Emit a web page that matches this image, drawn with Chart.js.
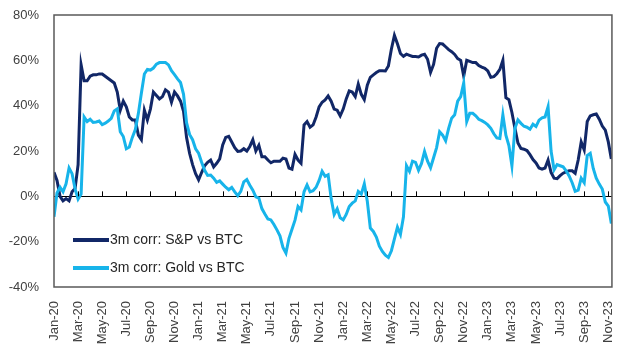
<!DOCTYPE html>
<html>
<head>
<meta charset="utf-8">
<script src="https://cdn.jsdelivr.net/npm/chart.js@4/dist/chart.umd.min.js"></script>
<style>
  html, body { margin: 0; padding: 0; background: #fff; }
  #wrap { width: 630px; height: 349px; }
</style>
</head>
<body>
<div id="wrap"><canvas id="corrChart" width="630" height="349"></canvas></div>
<script>
// roughly weekly points, months counted from Jan-20
const STEP_MONTHS = 0.25;

const xTickLabels = [
  'Jan-20', 'Mar-20', 'May-20', 'Jul-20', 'Sep-20', 'Nov-20',
  'Jan-21', 'Mar-21', 'May-21', 'Jul-21', 'Sep-21', 'Nov-21',
  'Jan-22', 'Mar-22', 'May-22', 'Jul-22', 'Sep-22', 'Nov-22',
  'Jan-23', 'Mar-23', 'May-23', 'Jul-23', 'Sep-23', 'Nov-23'
];

const seriesNames = ['3m corr: S&P vs BTC', '3m corr: Gold vs BTC'];

const spVsBtc = [
  10.6, 7, 0, -2, -1, -2, 2, 3.5, 14, 58,
  51, 51, 53, 53.6, 53.6, 54, 54, 53, 52, 51,
  50, 46, 38, 42, 39.5, 35, 33.7, 33.7, 27, 25,
  38, 33.7, 38.5, 46, 44.5, 43, 44, 47, 46, 41.5,
  46, 44.3, 42, 37.5, 26, 19, 14, 10, 7.3, 10.5,
  13.5, 15, 16, 13, 14.6, 16.5, 22.7, 26, 26.5, 24,
  21.5, 19.8, 20, 21, 20, 22, 25, 20, 22.5, 17.5,
  17.5, 16, 14.8, 15.5, 15.5, 15.5, 16.8, 16.5, 12.5, 12,
  18.5, 16, 14.6, 31.5, 33, 30.5, 31.5, 35, 39.5, 41.5,
  42.5, 44.3, 42, 38.5, 38, 35.5, 38.5, 43, 46.5, 46,
  44, 49.5, 45, 42.7, 49, 52.5, 53.6, 54.6, 55.4, 55.4,
  55.3, 57.5, 65, 71, 67.3, 63, 61.8, 62.7, 62.2, 61.7,
  61.7, 61.5, 62.3, 62.7, 60.5, 54.7, 58.2, 65.3, 67.4, 67.2,
  66, 64.7, 63.8, 62.6, 60.8, 60, 53, 60, 59.5, 59,
  59, 57.7, 57, 56.5, 55.3, 52.5, 52.8, 54.1, 56, 60,
  43.5, 42.6, 37, 30, 23.5, 21.1, 20.8, 20.2, 18.4, 16.2,
  14.7, 12.5, 12, 12.5, 16, 10.5, 8, 7.8, 9.1, 10.2,
  10.8, 11.3, 11.3, 10.2, 16, 24, 20.5, 33, 35.5, 36,
  36.3, 34, 31, 29.2, 24, 16.5
];

const goldVsBtc = [
  -9, 1.5, 4, 2, 5.5, 12.5, 10, 3.3, -1.2, 1,
  35, 33, 34, 32.6, 32.8, 33.2, 31.6, 32.3, 33.2, 34.4,
  37.7, 38.6, 28.5, 26.4, 21, 21.8, 26, 29.5, 36.5, 45.5,
  54, 56, 55.7, 56.6, 58.3, 59, 59, 59, 58, 55.4,
  53.7, 51.8, 50.2, 45, 32.5, 27.3, 25, 21, 19, 15,
  11.5, 9.2, 9.4, 8, 6.2, 6.8, 5.4, 4, 2.9, 3.9,
  2, 0.3, 2.2, 6.4, 7.4, 4.9, 2.7, -0.2, -0.8, -5.4,
  -7.8, -10, -10.4, -12.4, -14.8, -17.4, -22.5, -25, -18.5, -14.5,
  -10.5, -4.5, -6, 2, 5, 2, 2.5, 4, 7, 11,
  8.8, 9.5, -1, -8, -5.5, -9.5, -10.4, -8, -4.5, -3,
  -2, 2.2, 1, 5.5, -2.2, -14, -15.5, -18, -22, -24.3,
  -26, -27, -24, -18.8, -13.6, -16.8, -9, 13.5, 11, 15.5,
  15, 11.5, 14.5, 19.8, 15.5, 12.6, 17, 21.5, 28.5, 27,
  24.5, 30, 34.5, 36, 42, 44, 50, 33, 36.6, 36.6,
  35.5, 34, 33.4, 32.6, 31.5, 30, 27.6, 25.8, 25.5, 36,
  27, 22.4, 13.5, 30, 33.7, 32.2, 30.9, 30.5, 29.6, 31.8,
  30.8, 33.6, 34.6, 35, 39.5, 20, 11.7, 14, 13.5, 13,
  11.3, 9, 6, 2.2, 2.7, 8, 6, 18, 19, 12.3,
  8, 5.4, 3.2, -2.5, -4.3, -12
];

const yTicks = [-40, -20, 0, 20, 40, 60, 80];

const NAVY = '#112767';
const CYAN = '#17b4ea';
const FONT = '"Liberation Sans", Arial, sans-serif';

function toPoints(arr) {
  return arr.map((v, i) => ({ x: i * STEP_MONTHS, y: v }));
}

// frame, zero-line tick marks and the in-plot legend
const decorations = {
  id: 'decorations',
  afterDatasetsDraw(chart) {
    const { ctx, chartArea: a, scales } = chart;
    const y0 = scales.y.getPixelForValue(0);
    ctx.save();
    ctx.strokeStyle = '#000';
    ctx.lineWidth = 1;
    for (let m = 2; m < xTickLabels.length * 2; m += 2) {
      const x = Math.round(scales.x.getPixelForValue(m)) + 0.5;
      ctx.beginPath();
      ctx.moveTo(x, y0);
      ctx.lineTo(x, y0 - 5);
      ctx.stroke();
    }
    ctx.strokeStyle = '#595959';
    ctx.lineWidth = 1.5;
    ctx.strokeRect(a.left, a.top, a.right - a.left, a.bottom - a.top);

    ctx.font = '14px ' + FONT;
    ctx.textBaseline = 'middle';
    ctx.fillStyle = '#262626';
    const rows = [240, 268];
    chart.data.datasets.forEach((ds, i) => {
      ctx.strokeStyle = ds.borderColor;
      ctx.lineWidth = 4;
      ctx.beginPath();
      ctx.moveTo(73, rows[i]);
      ctx.lineTo(109, rows[i]);
      ctx.stroke();
      ctx.fillText(ds.label, 110, rows[i]);
    });
    ctx.restore();
  }
};

new Chart(document.getElementById('corrChart'), {
  type: 'line',
  data: {
    datasets: [{
      label: seriesNames[0],
      data: toPoints(spVsBtc),
      borderColor: NAVY,
      borderWidth: 3,
      pointRadius: 0,
      order: 1
    }, {
      label: seriesNames[1],
      data: toPoints(goldVsBtc),
      borderColor: CYAN,
      borderWidth: 3,
      pointRadius: 0,
      order: 0
    }]
  },
  options: {
    responsive: false,
    animation: false,
    layout: { padding: { top: 15, right: 13, left: 0, bottom: 0 } },
    plugins: {
      legend: { display: false },
      tooltip: { enabled: false }
    },
    scales: {
      x: {
        type: 'linear',
        min: 0,
        max: 46.3,
        grid: { display: false },
        border: { display: false },
        afterBuildTicks(scale) {
          scale.ticks = xTickLabels.map((_, i) => ({ value: i * 2 }));
        },
        afterFit(scale) { scale.height = 62; },
        ticks: {
          autoSkip: false,
          minRotation: 90,
          maxRotation: 90,
          padding: 6,
          color: '#404040',
          font: { family: FONT, size: 13 },
          callback: (v) => xTickLabels[v / 2]
        }
      },
      y: {
        min: -40,
        max: 80,
        afterBuildTicks(scale) {
          scale.ticks = yTicks.map(v => ({ value: v }));
        },
        afterFit(scale) {
          scale.width = 54;
          scale.paddingTop = 0;
          scale.paddingBottom = 0;
        },
        border: { display: false },
        grid: {
          drawTicks: false,
          color: (c) => (c.tick && c.tick.value === 0 ? '#000' : 'rgba(0,0,0,0)'),
          lineWidth: 1
        },
        ticks: {
          padding: 15,
          color: '#404040',
          font: { family: FONT, size: 13 },
          callback: (v) => v + '%'
        }
      }
    }
  },
  plugins: [decorations]
});
</script>
</body>
</html>
